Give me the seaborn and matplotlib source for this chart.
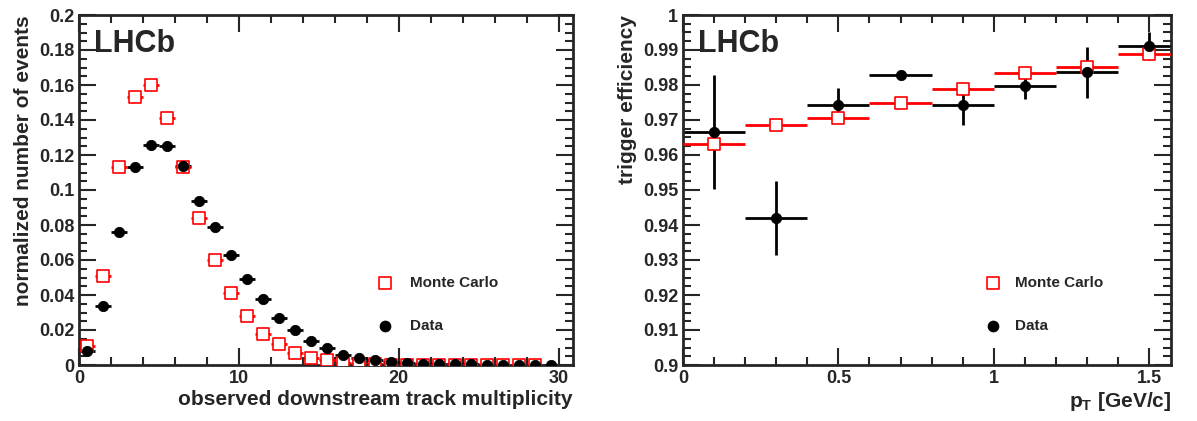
import numpy as np
import pandas as pd
import matplotlib
matplotlib.use("Agg")
import matplotlib.pyplot as plt
import seaborn as sns

sns.set_style("ticks")
plt.rcParams['font.family'] = ['Liberation Sans', 'DejaVu Sans']
plt.rcParams['font.weight'] = 'bold'

mult_x = [0.5 + i for i in range(30)]
mult_data = [0.008, 0.034, 0.076, 0.113, 0.126, 0.125, 0.114, 0.094, 0.079, 0.063,
             0.049, 0.038, 0.027, 0.020, 0.014, 0.010, 0.006, 0.004, 0.003, 0.002,
             0.0012, 0.0008, 0.0005, 0.0004, 0.0003, 0.0002, 0.0001, 0.0001, 0.0, 0.0]
mult_mc = [0.011, 0.051, 0.113, 0.153, 0.160, 0.141, 0.113, 0.084, 0.060, 0.041,
           0.028, 0.018, 0.012, 0.007, 0.004, 0.003, 0.001, 0.0005, 0.0003, 0.0002,
           0.0001, 0.0001, 0.0, 0.0, 0.0, 0.0, 0.0, 0.0, 0.0]

pt_x = [0.1, 0.3, 0.5, 0.7, 0.9, 1.1, 1.3, 1.5]
pt_mc = [0.9632, 0.9686, 0.9706, 0.9749, 0.9790, 0.9834, 0.9851, 0.9889]
pt_data = [0.9667, 0.9420, 0.9743, 0.9829, 0.9744, 0.9797, 0.9836, 0.9912]
pt_data_err = [0.0163, 0.0105, 0.0047, 0.0010, 0.0058, 0.0038, 0.0072, 0.0040]

SQ = 65
CI = 55

fig = plt.figure(figsize=(11.97, 4.21), dpi=100)
ax1 = fig.add_axes([79/1197, 1-365/421, 494/1197, 350/421])
ax2 = fig.add_axes([683/1197, 1-365/421, 488/1197, 350/421])

df_d = pd.DataFrame({'x': mult_x, 'y': mult_data})
df_m = pd.DataFrame({'x': mult_x[:len(mult_mc)], 'y': mult_mc})
ax1.errorbar(df_d.x, df_d.y, xerr=0.5, fmt='none', ecolor='black', lw=2, zorder=2)
ax1.errorbar(df_m.x, df_m.y, xerr=0.5, fmt='none', ecolor='red', lw=2, zorder=2)
sns.scatterplot(data=df_m, x='x', y='y', ax=ax1, marker='s', s=SQ, facecolor='white',
                edgecolor='red', linewidth=1.2, zorder=3)
sns.scatterplot(data=df_d, x='x', y='y', ax=ax1, marker='o', s=CI, color='black',
                edgecolor='black', zorder=4)
ax1.set_xlim(0, 30.9)
ax1.set_ylim(0, 0.2)
ax1.set_yticks(np.arange(0, 0.201, 0.02))
ax1.set_yticklabels(['0', '0.02', '0.04', '0.06', '0.08', '0.1', '0.12', '0.14', '0.16', '0.18', '0.2'])
ax1.set_xticks([0, 10, 20, 30])
ax1.set_xlabel('observed downstream track multiplicity', fontsize=15, fontweight='bold', loc='right', labelpad=2)
ax1.set_ylabel('normalized number of events', fontsize=15, fontweight='bold', loc='top')

df_pm = pd.DataFrame({'x': pt_x, 'y': pt_mc})
df_pd = pd.DataFrame({'x': pt_x, 'y': pt_data})
ax2.errorbar(pt_x, pt_data, xerr=0.1, yerr=pt_data_err, fmt='none', ecolor='black', lw=2, zorder=2)
ax2.errorbar(pt_x, pt_mc, xerr=0.1, yerr=0.0005, fmt='none', ecolor='red', lw=2, zorder=3)
sns.scatterplot(data=df_pm, x='x', y='y', ax=ax2, marker='s', s=SQ, facecolor='white',
                edgecolor='red', linewidth=1.2, zorder=4)
sns.scatterplot(data=df_pd, x='x', y='y', ax=ax2, marker='o', s=CI, color='black',
                edgecolor='black', zorder=5)
ax2.set_xlim(0, 1.57)
ax2.set_ylim(0.9, 1.0)
ax2.set_yticks(np.arange(0.9, 1.0001, 0.01))
ax2.set_yticklabels(['0.9', '0.91', '0.92', '0.93', '0.94', '0.95', '0.96', '0.97', '0.98', '0.99', '1'])
ax2.set_xticks([0, 0.5, 1, 1.5])
ax2.set_xticklabels(['0', '0.5', '1', '1.5'])
ax2.set_xlabel(r'p$_\mathregular{T}$ [GeV/c]', fontsize=15, fontweight='bold', loc='right', labelpad=2)
ax2.set_ylabel('trigger efficiency', fontsize=15, fontweight='bold', loc='top')

for ax, minor_x, minor_y in [(ax1, 2, 0.005), (ax2, 0.1, 0.0025)]:
    ax.xaxis.set_minor_locator(matplotlib.ticker.MultipleLocator(minor_x))
    ax.yaxis.set_minor_locator(matplotlib.ticker.MultipleLocator(minor_y))
    ax.tick_params(which='both', direction='in', top=True, right=True, width=1.5, labelsize=13)
    ax.tick_params(which='major', length=12)
    ax.tick_params(which='minor', length=6)
    for sp in ax.spines.values():
        sp.set_linewidth(2)
    for lbl in ax.get_xticklabels() + ax.get_yticklabels():
        lbl.set_fontweight('bold')
    ax.text(0.03, 0.96, 'LHCb', transform=ax.transAxes, fontsize=22, fontweight='bold', va='top')

def legend(ax, xm, xt, y1, y2):
    ax.scatter([xm], [y1], marker='s', s=SQ, facecolor='white', edgecolor='red', linewidth=1.2, transform=ax.transAxes, clip_on=False)
    ax.scatter([xm], [y2], marker='o', s=CI, color='black', transform=ax.transAxes, clip_on=False)
    ax.text(xt, y1, 'Monte Carlo', transform=ax.transAxes, fontsize=11, fontweight='bold', va='center')
    ax.text(xt, y2, 'Data', transform=ax.transAxes, fontsize=11, fontweight='bold', va='center')

legend(ax1, (385-79)/494, (410-79)/494, (365-283)/350, (365-326)/350)
legend(ax2, (993-683)/488, (1015-683)/488, (365-283)/350, (365-326)/350)

fig.savefig('out.png', dpi=100)
